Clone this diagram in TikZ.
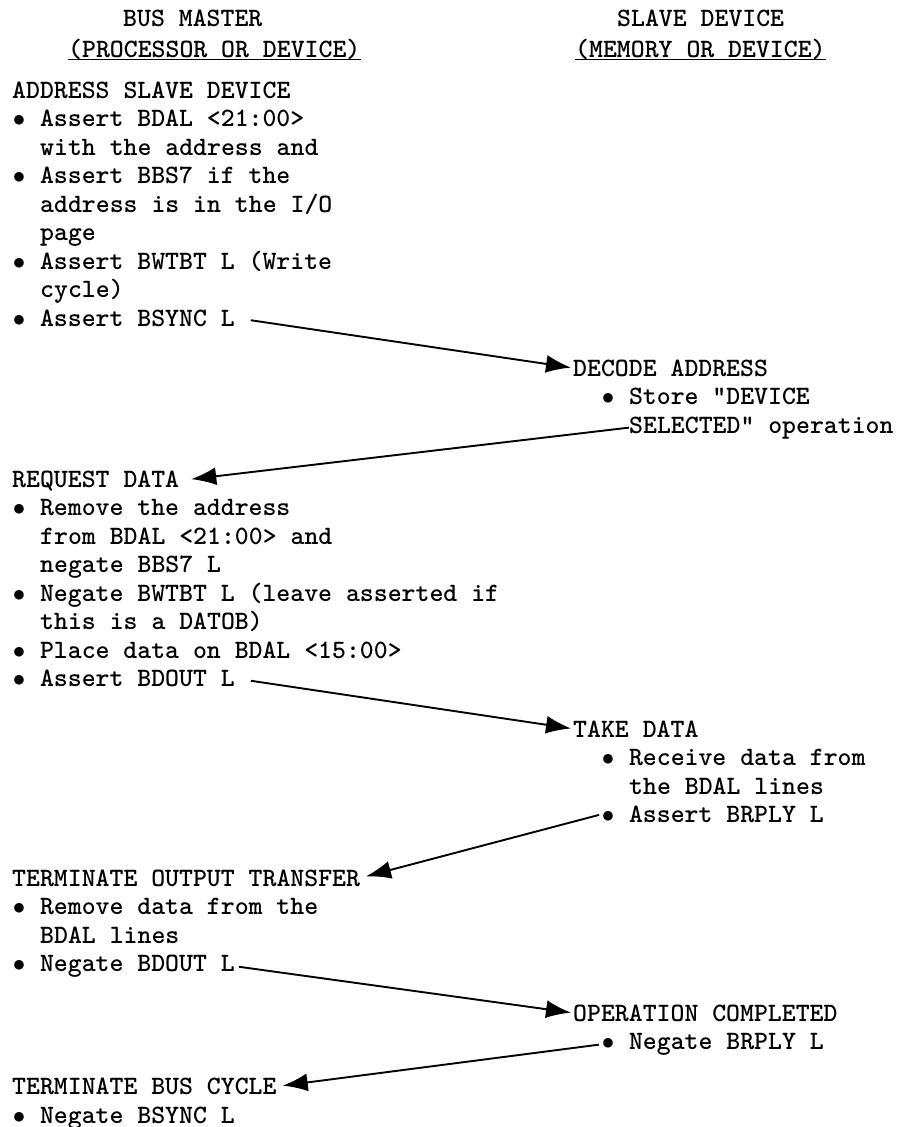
\documentclass[tikz,border=0pt]{standalone}
\usepackage{tikz}
\usetikzlibrary{arrows.meta}

\newcommand{\bul}{\makebox[13.9pt]{$\bullet$}}

\tikzset{
  txt/.style={anchor=base west, inner sep=0pt, font=\ttfamily\bfseries\fontsize{26.5}{28.5}\selectfont},
  flow/.style={-{Latex[length=25pt,width=18pt]}, line width=1.9pt},
}

\begin{document}
\begin{tikzpicture}[x=1pt, y=-1pt]
    \useasboundingbox (0,0) rectangle (897,1127);

    % Column headings
    \node[txt] (hbm) at (123,27) {BUS MASTER};
    \node[txt] (hproc) at (68,57) {(PROCESSOR OR DEVICE)};
    \node[txt] (hsd) at (617,27) {SLAVE DEVICE};
    \node[txt] (hmem) at (575,57) {(MEMORY OR DEVICE)};
    \draw[line width=1.3pt] (hproc.south west) -- (hproc.south east);
    \draw[line width=1.3pt] (hmem.south west) -- (hmem.south east);

    % Address slave device
    \node[txt] (addr) at (12,98) {ADDRESS SLAVE DEVICE};
    \node[txt] (a1) at (12,126.5) {\bul\ Assert BDAL <21:00>};
    \node[txt] (a2) at (40,155) {with the address and};
    \node[txt] (a3) at (12,183.5) {\bul\ Assert BBS7 if the};
    \node[txt] (a4) at (40,212) {address is in the I/O};
    \node[txt] (a5) at (40,240.5) {page};
    \node[txt] (a6) at (12,269) {\bul\ Assert BWTBT L (Write};
    \node[txt] (a7) at (40,297.5) {cycle)};
    \node[txt] (a8) at (12,326) {\bul\ Assert BSYNC L};

    % Decode address
    \node[txt] (dec) at (573,376) {DECODE ADDRESS};
    \node[txt] (d1) at (601,404.5) {\bul\ Store "DEVICE};
    \node[txt] (d2) at (629,433) {SELECTED" operation};

    % Request data
    \node[txt] (req) at (12,487) {REQUEST DATA};
    \node[txt] (r1) at (12,515.5) {\bul\ Remove the address};
    \node[txt] (r2) at (40,544) {from BDAL <21:00> and};
    \node[txt] (r3) at (40,572.5) {negate BBS7 L};
    \node[txt] (r4) at (12,601) {\bul\ Negate BWTBT L (leave asserted if};
    \node[txt] (r5) at (40,629.5) {this is a DATOB)};
    \node[txt] (r6) at (12,658) {\bul\ Place data on BDAL <15:00>};
    \node[txt] (r7) at (12,686.5) {\bul\ Assert BDOUT L};

    % Take data
    \node[txt] (take) at (573,737) {TAKE DATA};
    \node[txt] (t1) at (601,765.5) {\bul\ Receive data from};
    \node[txt] (t2) at (629,794) {the BDAL lines};
    \node[txt] (t3) at (601,822.5) {\bul\ Assert BRPLY L};

    % Terminate output transfer
    \node[txt] (term) at (12,886) {TERMINATE OUTPUT TRANSFER};
    \node[txt] (o1) at (12,914.5) {\bul\ Remove data from the};
    \node[txt] (o2) at (40,943) {BDAL lines};
    \node[txt] (o3) at (12,971.5) {\bul\ Negate BDOUT L};

    % Operation completed
    \node[txt] (opc) at (573,1021) {OPERATION COMPLETED};
    \node[txt] (c1) at (601,1049.5) {\bul\ Negate BRPLY L};

    % Terminate bus cycle
    \node[txt] (tbc) at (12,1094.5) {TERMINATE BUS CYCLE};
    \node[txt] (b1) at (12,1123) {\bul\ Negate BSYNC L};

    % Handshake arrows
    \draw[flow, shorten <=16pt, shorten >=2pt] (a8.east) -- (dec.west);
    \draw[flow, shorten >=12pt] (d2.west) -- (req.east);
    \draw[flow, shorten <=16pt, shorten >=2pt] (r7.east) -- (take.west);
    \draw[flow, shorten <=2pt, shorten >=6pt] (t3.west) -- (term.east);
    \draw[flow, shorten <=4pt, shorten >=2pt] (o3.east) -- (opc.west);
    \draw[flow, shorten <=2pt, shorten >=6pt] (c1.west) -- (tbc.east);
\end{tikzpicture}
\end{document}
